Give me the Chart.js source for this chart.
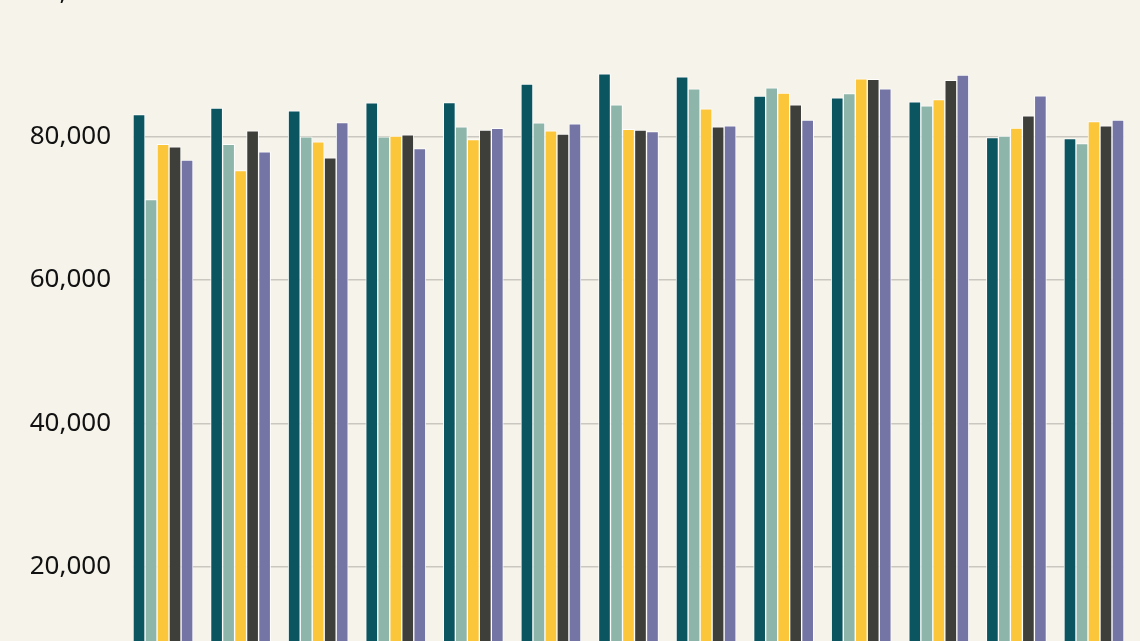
<!DOCTYPE html>
<html>
<head>
<meta charset="utf-8">
<script src="https://cdn.jsdelivr.net/npm/chart.js@4/dist/chart.umd.min.js"></script>
<style>
  html, body { margin: 0; padding: 0; background: #f6f3ea; overflow: hidden; }
  body { width: 1140px; height: 641px; position: relative; }
  /* 차트가 화면보다 커서 위/아래가 잘린 모습 */
  #wrap { position: absolute; left: 0; top: -60px; width: 1140px; height: 808px; }
</style>
</head>
<body>
<div id="wrap"><canvas id="myChart"></canvas></div>
<script>
// 그룹 (x축 라벨은 화면 아래로 잘려 있음)
var categories = ['1', '2', '3', '4', '5', '6', '7', '8', '9', '10', '11', '12', '13'];

// 시리즈 값
var series1 = [83070, 83950, 83570, 84680, 84740, 87290, 88740, 88320, 85620, 85380, 84820, 79860, 79720];
var series2 = [71220, 78890, 79940, 79940, 81350, 81910, 84420, 86650, 86790, 85990, 84270, 80040, 79020];
var series3 = [78890, 75260, 79250, 80040, 79580, 80800, 80980, 83860, 86040, 88030, 85160, 81160, 82090];
var series4 = [78550, 80780, 77020, 80220, 80880, 80320, 80880, 81350, 84410, 87980, 87810, 82870, 81480];
var series5 = [76700, 77850, 81950, 78330, 81120, 81770, 80700, 81490, 82270, 86640, 88550, 85660, 82270];

var yTicks = [0, 20000, 40000, 60000, 80000, 100000];

var seriesColor = ['#0b5560', '#8db5aa', '#fcc63a', '#3e3f3a', '#7575a5'];

function toPoints(arr) {
  // 선형 x축에 올리기 위해 {x, y} 로 변환
  return arr.map(function (v, i) { return { x: i, y: v }; });
}

var allSeries = [series1, series2, series3, series4, series5];
var datasets = allSeries.map(function (s, i) {
  return {
    label: 'S' + (i + 1),
    data: toPoints(s),
    backgroundColor: seriesColor[i],
    borderColor: 'rgba(255,255,255,0.85)',
    borderWidth: 1,
    barThickness: 12,
  };
});

var myChart = new Chart(document.querySelector('#myChart'), {
  type: 'bar',
  data: { datasets: datasets },
  options: {
    responsive: true,
    maintainAspectRatio: false,
    animation: false,
    layout: { padding: { top: 53, right: 16, bottom: 10, left: 0 } },
    plugins: {
      legend: { display: false },
      title: { display: false },
      tooltip: { enabled: false },
    },
    scales: {
      x: {
        type: 'linear',
        display: false,
        offset: false,
        grid: { offset: false },
        min: -0.387,
        max: categories.length - 1 + 0.387,
      },
      y: {
        min: 0,
        max: 100000,
        afterFit: function (s) { s.width = 133; },
        afterBuildTicks: function (s) {
          s.ticks = yTicks.map(function (v) { return { value: v }; });
        },
        border: { display: false },
        grid: {
          color: '#c9c7bf',
          lineWidth: 1.5,
          drawTicks: false,
        },
        ticks: {
          padding: 22,
          color: '#111111',
          font: { family: 'Noto Sans', size: 26 },
          callback: function (v) { return v.toLocaleString('en-US'); },
        },
      },
    },
  },
});
</script>
</body>
</html>
